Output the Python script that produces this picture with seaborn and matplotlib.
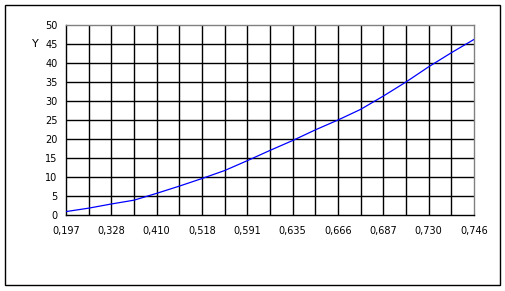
import numpy as np
import pandas as pd
import matplotlib
matplotlib.use("Agg")
import matplotlib.pyplot as plt
import seaborn as sns
from matplotlib.patches import Rectangle

# Data
y_values = [0.9, 1.8, 2.9, 3.9, 5.7, 7.6, 9.6, 11.7, 14.3, 17.0,
            19.6, 22.4, 25.0, 27.8, 31.3, 35.0, 39.0, 42.7, 46.2]
tick_labels = ["0,197", "0,328", "0,410", "0,518", "0,591",
               "0,635", "0,666", "0,687", "0,730", "0,746"]
y_ticks = [0, 5, 10, 15, 20, 25, 30, 35, 40, 45, 50]

df = pd.DataFrame({"idx": np.arange(len(y_values)), "Y": y_values})

sns.set_style("white")
plt.rcParams['font.family'] = ['DejaVu Sans']
plt.rcParams['text.color'] = 'black'
plt.rcParams['xtick.color'] = 'black'
plt.rcParams['ytick.color'] = 'black'

W, H = 506, 291
fig = plt.figure(figsize=(W / 100, H / 100), dpi=100)
ax = fig.add_axes([66 / W, 1 - 215 / H, (474 - 66) / W, (215 - 25) / H])

# outer frame
fig.patches.append(Rectangle((5 / W, 1 - 285 / H), 495 / W, 280 / H,
                             transform=fig.transFigure, fill=False,
                             edgecolor="black", linewidth=1.0))

# grid lines
n = len(y_values)
for i in range(1, n - 1):
    ax.axvline(i, color="black", linewidth=1.0, zorder=1)
for v in y_ticks[1:-1]:
    ax.axhline(v, color="black", linewidth=1.0, zorder=1)

sns.lineplot(data=df, x="idx", y="Y", ax=ax, color="#0000ff",
             linewidth=0.9, zorder=3)

ax.set_xlim(0, n - 1)
ax.set_ylim(0, 50)
ax.set_xticks(np.arange(0, n, 2))
ax.set_xticklabels(tick_labels)
ax.set_yticks(y_ticks)
ax.set_yticklabels([str(v) for v in y_ticks])
ax.tick_params(axis="both", direction="out", length=4, width=1.0,
               labelsize=7, color="black", labelcolor="black", pad=2)
ax.tick_params(axis="x", pad=4)

for s in ["left", "bottom"]:
    ax.spines[s].set_color("black")
    ax.spines[s].set_linewidth(1.0)
for s in ["top", "right"]:
    ax.spines[s].set_color("#808080")
    ax.spines[s].set_linewidth(1.0)

ax.set_xlabel("")
ax.set_ylabel("")
fig.text(35 / W, 1 - 44 / H, "Y", ha="center", va="center", fontsize=8,
         color="black")

fig.savefig("out.png", dpi=100)
